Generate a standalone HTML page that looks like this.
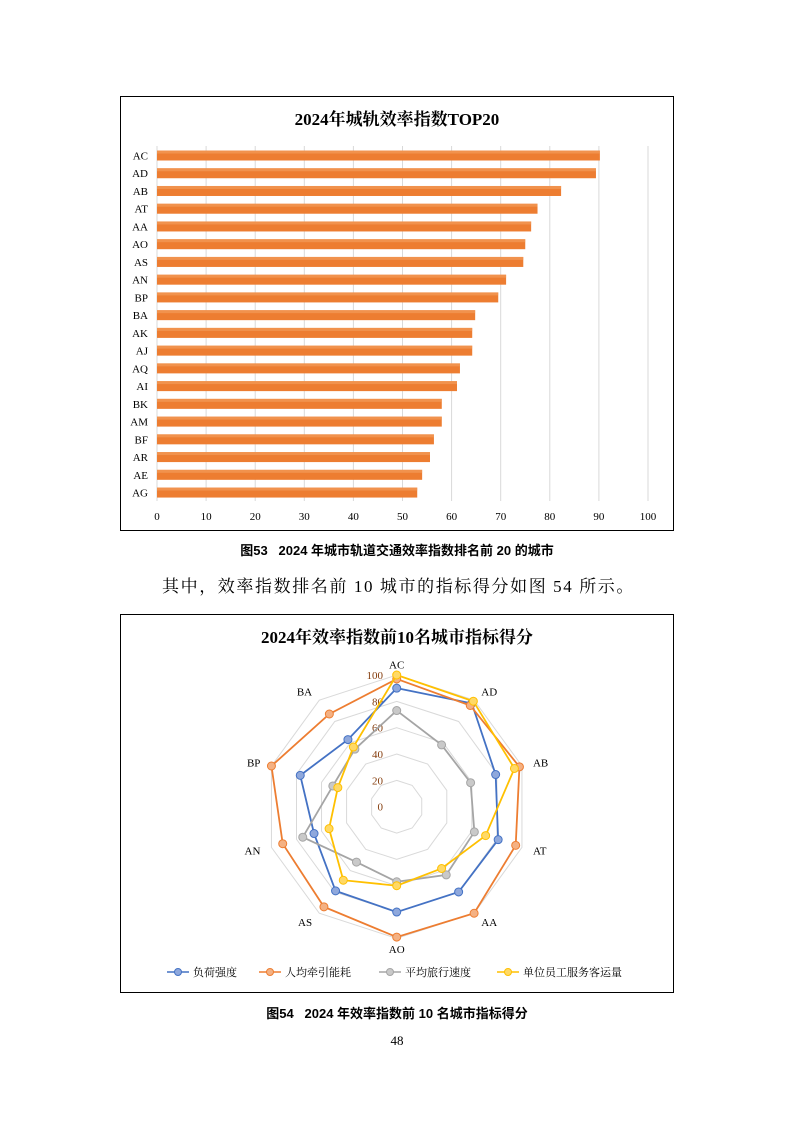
<!DOCTYPE html><html><head><meta charset="utf-8"><style>
body{margin:0;background:#fff;}
.p{position:relative;width:794px;height:1123px;font-family:"Liberation Serif","Noto Serif CJK SC",serif;}
.t{position:absolute;white-space:nowrap;}
</style></head><body><div class="p">
<svg width="794" height="1123" style="position:absolute;left:0;top:0" id="s" font-family="Liberation Serif, Noto Serif CJK SC, serif">
<rect x="120.5" y="96.5" width="553" height="434" fill="none" stroke="#000" stroke-width="1"/>
<rect x="120.5" y="614.5" width="553" height="378" fill="none" stroke="#000" stroke-width="1"/>
<text x="397" y="125" text-anchor="middle" font-size="17" font-weight="bold">2024年城轨效率指数TOP20</text>
<text x="397" y="643" text-anchor="middle" font-size="17" font-weight="bold">2024年效率指数前10名城市指标得分</text>
</svg>
<div class="t" style="left:0;width:794px;text-align:center;top:540px;font-size:13px;font-weight:bold;font-family:'Liberation Sans','Noto Sans CJK SC',sans-serif">图53&nbsp;&nbsp;&nbsp;2024 年城市轨道交通效率指数排名前 20 的城市</div>
<div class="t" style="left:162px;top:572px;font-size:17px;letter-spacing:1.6px">其中，效率指数排名前 10 城市的指标得分如图 54 所示。</div>
<div class="t" style="left:0;width:794px;text-align:center;top:1003px;font-size:13px;font-weight:bold;font-family:'Liberation Sans','Noto Sans CJK SC',sans-serif">图54&nbsp;&nbsp;&nbsp;2024 年效率指数前 10 名城市指标得分</div>
<div class="t" style="left:0;width:794px;text-align:center;top:1033px;font-size:13px">48</div>
</div>
<script>
var s=document.getElementById('s'),N='http://www.w3.org/2000/svg';
function el(t,a,txt){var e=document.createElementNS(N,t);for(var k in a)e.setAttribute(k,a[k]);if(txt!=null)e.textContent=txt;s.appendChild(e);return e;}
var x0=157,k=4.91;
for(var i=0;i<=10;i++){var x=x0+i*10*k;el('line',{x1:x,y1:146,x2:x,y2:501,stroke:'#d9d9d9'});el('text',{x:x,y:520,'text-anchor':'middle','font-size':11},i*10);}
var L=['AC','AD','AB','AT','AA','AO','AS','AN','BP','BA','AK','AJ','AQ','AI','BK','AM','BF','AR','AE','AG'];
var V=[90.2,89.4,82.3,77.5,76.2,75,74.6,71.1,69.5,64.8,64.2,64.2,61.7,61.1,58,58,56.4,55.6,54,53];
for(var i=0;i<20;i++){var y=155.5+i*17.74;el('rect',{x:x0,y:y-5,width:V[i]*k,height:10,fill:'#ED7D31'});el('rect',{x:x0,y:y-5,width:V[i]*k,height:3,fill:'#F4A060',opacity:.6});el('text',{x:148,y:y+4,'text-anchor':'end','font-size':11},L[i]);}
var cx=396.7,cy=806.7,r=1.317;
var A=['AC','AD','AB','AT','AA','AO','AS','AN','BP','BA'];
function pt(j,v){var a=j*Math.PI/5;return [cx+Math.sin(a)*v*r,cy-Math.cos(a)*v*r];}
for(var g=20;g<=100;g+=20){var p=[];for(var j=0;j<10;j++)p.push(pt(j,g).join(','));el('polygon',{points:p.join(' '),fill:'none',stroke:'#d9d9d9'});}
for(var j=0;j<10;j++){var q=pt(j,108);var dx=q[0]-cx;el('text',{x:q[0]+(Math.abs(dx)<5?0:(dx>0?1:-1)),y:q[1]+4,'text-anchor':Math.abs(dx)<5?'middle':(dx>0?'start':'end'),'font-size':11},A[j]);}
for(var g=0;g<=100;g+=20)el('text',{x:383,y:cy-g*r+4,'text-anchor':'end','font-size':11,fill:'#843C0C'},g);
var S=[['#4472C4','#8FA8DC',[90,97,79,81,80,80,79,66,77,63]],['#ED7D31','#F4B183',[97,95,98,95,100,99,94,91,100,87]],['#A5A5A5','#C9C9C9',[73,58,59,62,64,57,52,75,51,54]],['#FFC000','#FFD966',[100,99,94,71,58,60,69,54,47,56]]];
S.forEach(function(z){var p=[];for(var j=0;j<10;j++)p.push(pt(j,z[2][j]).join(','));el('polygon',{points:p.join(' '),fill:'none',stroke:z[0],'stroke-width':1.8});for(var j=0;j<10;j++){var q=pt(j,z[2][j]);el('circle',{cx:q[0],cy:q[1],r:4,fill:z[1],stroke:z[0],'stroke-width':1});}});
var LG=['负荷强度','人均牵引能耗','平均旅行速度','单位员工服务客运量'],lx=[167,259,379,497];
for(var i=0;i<4;i++){el('line',{x1:lx[i],y1:972,x2:lx[i]+22,y2:972,stroke:S[i][0],'stroke-width':1.5});el('circle',{cx:lx[i]+11,cy:972,r:3.5,fill:S[i][1],stroke:S[i][0]});el('text',{x:lx[i]+26,y:976,'font-size':11},LG[i]);}
</script></body></html>
